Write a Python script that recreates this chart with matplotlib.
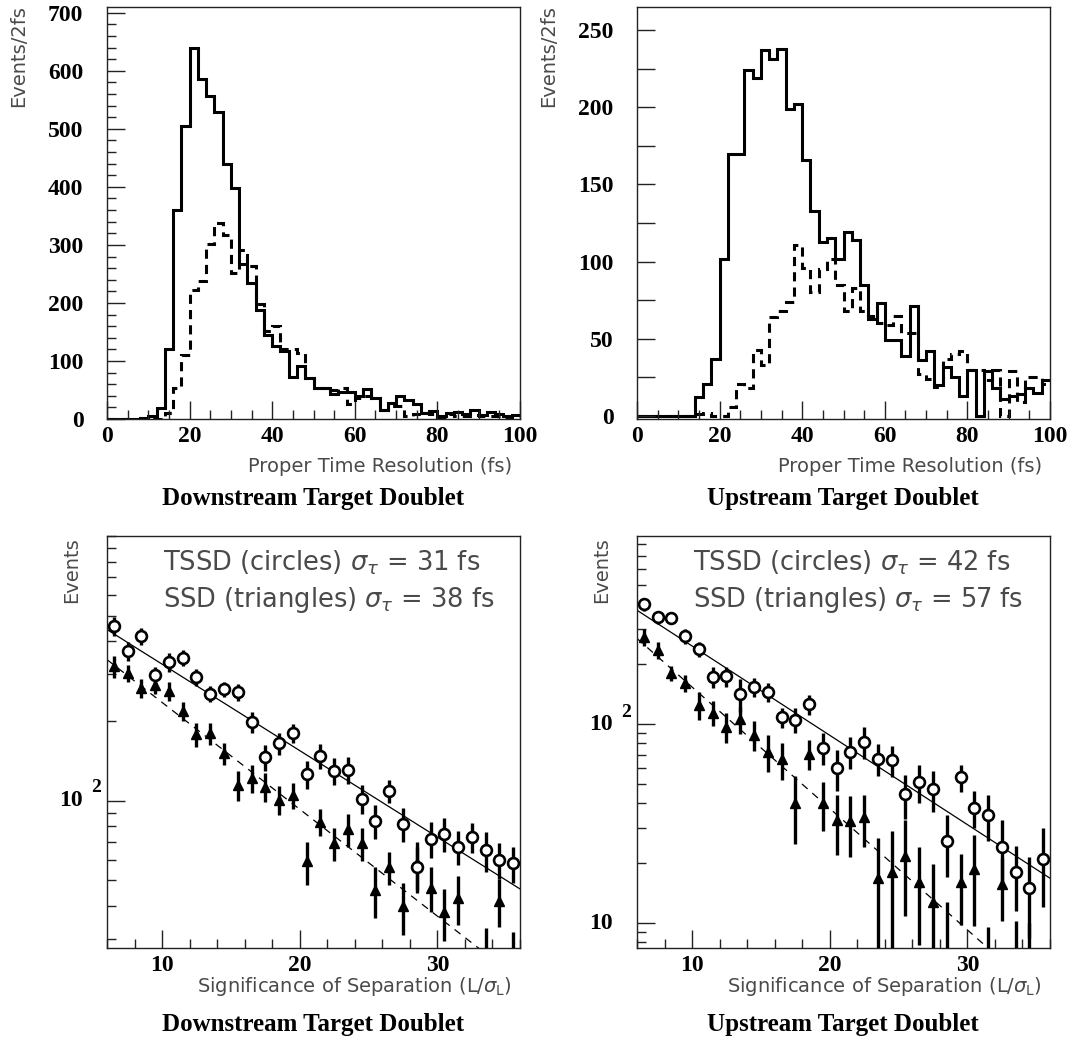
import numpy as np
import matplotlib.pyplot as plt
from matplotlib.ticker import MultipleLocator, FixedLocator, NullFormatter, FuncFormatter
from matplotlib.transforms import blended_transform_factory

plt.rcParams['font.family'] = ['Liberation Serif', 'DejaVu Serif']
plt.rcParams['font.weight'] = 'bold'
plt.rcParams['xtick.labelsize'] = 17
plt.rcParams['ytick.labelsize'] = 17
plt.rcParams['mathtext.fontset'] = 'custom'
plt.rcParams['mathtext.rm'] = 'DejaVu Sans:normal'
plt.rcParams['mathtext.it'] = 'DejaVu Sans:italic:normal'

W, H = 1070, 1044

# proper time resolution histograms, 2 fs bins from 0 to 100 fs
bin_edges = np.arange(0, 102, 2)
down_tssd = [0, 0, 0, 0, 2, 6, 19, 121, 360, 505,
             640, 586, 557, 529, 440, 398, 267, 234, 187, 145,
             125, 117, 72, 91, 71, 53, 53, 43, 47, 47,
             39, 52, 36, 16, 28, 39, 33, 26, 10, 14,
             5, 10, 12, 9, 16, 7, 12, 9, 6, 7]
down_ssd = [0, 0, 0, 0, 0, 0, 0, 10, 53, 111,
            223, 237, 302, 338, 317, 252, 292, 263, 199, 152,
            160, 120, 121, 114, 71, 53, 53, 50, 53, 25,
            36, 39, 36, 16, 22, 22, 5, 8, 10, 8,
            3, 8, 6, 5, 7, 5, 6, 5, 4, 5]
up_tssd = [0, 0, 0, 0, 0, 0, 0, 12, 21, 37,
           102, 170, 170, 224, 219, 237, 231, 238, 199, 202,
           166, 133, 113, 115, 102, 119, 114, 85, 63, 73,
           49, 49, 39, 71, 36, 42, 20, 32, 25, 13,
           30, 0, 29, 18, 11, 13, 14, 18, 15, 23]
up_ssd = [0, 0, 0, 0, 0, 0, 0, 1, 2, 0,
          0, 6, 21, 18, 43, 33, 64, 68, 74, 111,
          96, 80, 95, 102, 85, 68, 83, 68, 65, 60,
          59, 65, 54, 54, 27, 24, 19, 37, 40, 42,
          30, 30, 23, 30, 0, 29, 9, 25, 25, 21]

# significance of separation, unit bins from 6 to 36
sig_edges = np.arange(6, 37, 1)
sig_x = 0.5 * (sig_edges[:-1] + sig_edges[1:])
nan = np.nan
down_circ = [456, 367, 418, 299, 334, 346, 293, 254, 264, 257,
             198, 146, 165, 180, 126, 148, 130, 131, 102, 84,
             109, 82, 56, 72, 75, 67, 73, 65, 60, 58]
down_circ_err = [38, 31, 31, 22, 27, 24, 21, 18, 18, 19,
                 18, 16, 16, 15, 15, 16, 15, 15, 13, 12,
                 11, 12, 11, 11, 11, 10, 9.5, 11, 9.5, 9]
down_tri = [322, 304, 266, 274, 260, 218, 178, 180, 151, 115,
            122, 113, 101, 105, 59, 83.5, 69, 78, 69, 46,
            56, 40, 58, 47, 38, 43, nan, 22, 42, 20]
down_tri_err = [31, 23, 22, 20, 21, 18, 18, 17, 15, 15,
                15, 14, 13, 12, 11, 10, 10, 11, 10, 10,
                8, 9, 12, 9, 8.5, 9, nan, 11, 8.5, 12]
up_circ = [400, 343, 339, 276, 238, 173, 174, 141.5, 154, 145,
           108, 105, 125.5, 76, 60, 72.6, 81.5, 67, 66, 44.5,
           51, 47, 26, 54, 38, 35, 24, 18, 15, 21]
up_circ_err = [29, 24, 22, 24, 21, 21, 20, 27, 17, 16,
               13, 15, 15, 14, 14, 13, 15, 12, 12, 11,
               11, 11, 9, 8.5, 8, 9, 9, 6.5, 6.6, 9]
up_tri = [274, 235, 180, 161, 124.5, 114, 97, 105.5, 88, 72.6,
          66.5, 40, 71, 40, 33, 32.6, 34, 16.8, 18, 21.8,
          16, 12.8, 6, 16, 18.7, 4, 15.7, 4, 4, nan]
up_tri_err = [27, 22, 16, 16, 20, 16, 17, 16, 15, 15,
              14, 15, 12, 11, 11, 11, 10, 10, 11, 11,
              8.2, 7, 6.7, 6.2, 9, 5.6, 5.5, 6.2, 6, nan]

# exponential fits N0 * exp(-x / lam)
down_circ_fit = (696, 13.3)
down_tri_fit = (596, 10.76)
up_circ_fit = (693, 9.68)
up_tri_fit = (625, 7.12)

down_text = [r'TSSD (circles) $\sigma_\tau$ = 31 fs', r'SSD (triangles) $\sigma_\tau$ = 38 fs']
up_text = [r'TSSD (circles) $\sigma_\tau$ = 42 fs', r'SSD (triangles) $\sigma_\tau$ = 57 fs']

SANS = dict(family='DejaVu Sans', color='#4a4a4a', fontweight='normal')
TICKFONT = dict(family='Liberation Serif', fontweight='bold', size=17)


def rect(x0, y0, x1, y1):
    return [x0 / W, 1 - y1 / H, (x1 - x0) / W, (y1 - y0) / H]


def fig_text(x, y, s, **kw):
    fig.text(x / W, 1 - y / H, s, **kw)


def frame(ax):
    for sp in ax.spines.values():
        sp.set_linewidth(1.0)
        sp.set_color('#222222')
    ax.tick_params(which='both', direction='in', top=False, right=False,
                   width=1.0, color='#222222')
    ax.tick_params(which='major', length=13)
    ax.tick_params(which='minor', length=6.5)
    ax.tick_params(axis='x', pad=5)


def hist_panel(ax, solid, dashed, ymin, ymax, ymaj, ymin_step, label_every):
    ax.stairs(solid, bin_edges, color='black', lw=2.2, baseline=None)
    ax.stairs(dashed, bin_edges, color='black', lw=2.2, ls=(0, (3, 2)), baseline=None)
    ax.set_xlim(0, 100)
    ax.set_ylim(ymin, ymax)
    ax.xaxis.set_major_locator(MultipleLocator(20))
    ax.xaxis.set_minor_locator(MultipleLocator(5))
    ax.yaxis.set_major_locator(MultipleLocator(ymaj))
    if ymin_step:
        ax.yaxis.set_minor_locator(MultipleLocator(ymin_step))
    ax.yaxis.set_major_formatter(FuncFormatter(
        lambda v, p: '%d' % v if abs(v % label_every) < 1e-6 else ''))
    ax.tick_params(axis='y', pad=17)
    frame(ax)


def sig_panel(ax, circ, circ_err, tri, tri_err, circ_fit, tri_fit, ylim, labels, text):
    circ = np.array(circ, float)
    circ_err = np.array(circ_err, float)
    tri = np.array(tri, float)
    tri_err = np.array(tri_err, float)
    for vals, errs in ((tri, tri_err), (circ, circ_err)):
        lo = np.minimum(errs, 0.97 * vals)
        ax.errorbar(sig_x, vals, yerr=[lo, errs], fmt='none', ecolor='black',
                    elinewidth=2.4, capsize=0, zorder=3)
    xf = np.linspace(6, 36, 200)
    ax.plot(xf, circ_fit[0] * np.exp(-xf / circ_fit[1]), color='black', lw=0.9, zorder=2)
    ax.plot(xf, tri_fit[0] * np.exp(-xf / tri_fit[1]), color='black', lw=0.9,
            ls=(0, (6, 5)), zorder=2)
    ax.plot(sig_x, tri, ls='none', marker='^', ms=6.5, color='black', zorder=4)
    ax.plot(sig_x, circ, ls='none', marker='o', ms=7.8, mfc='white', mec='black',
            mew=1.9, zorder=4)
    ax.set_yscale('log')
    ax.set_xlim(6, 36)
    ax.set_ylim(*ylim)
    ax.xaxis.set_major_locator(FixedLocator([10, 20, 30]))
    ax.xaxis.set_minor_locator(MultipleLocator(2))
    ax.yaxis.set_major_locator(FixedLocator([v for v, e in labels]))
    ax.yaxis.set_minor_locator(FixedLocator(
        [m * 10 ** d for d in range(0, 4) for m in range(1, 10)]))
    ax.yaxis.set_major_formatter(NullFormatter())
    ax.yaxis.set_minor_formatter(NullFormatter())
    frame(ax)
    tr = blended_transform_factory(ax.transAxes, ax.transData)
    for v, e in labels:
        ax.text(-24 / 413, v, '10', transform=tr, ha='right', va='center', **TICKFONT)
        if e:
            ax.text(-16 / 413, v * 1.04, e, transform=tr, ha='left', va='bottom',
                    family='Liberation Serif', fontweight='bold', size=14)
    ax.text(0.136, 0.934, text[0], transform=ax.transAxes, ha='left', va='center',
            size=18.5, **SANS)
    ax.text(0.136, 0.845, text[1], transform=ax.transAxes, ha='left', va='center',
            size=18.5, **SANS)


fig = plt.figure(figsize=(W / 100, H / 100), dpi=100)

ax1 = fig.add_axes(rect(107, 7, 520, 419))
hist_panel(ax1, down_tssd, down_ssd, 0, 710, 100, 20, 100)
ax2 = fig.add_axes(rect(637, 7, 1050, 419))
hist_panel(ax2, up_tssd, up_ssd, -2, 265, 25, None, 50)

ax3 = fig.add_axes(rect(107, 536, 520, 948))
sig_panel(ax3, down_circ, down_circ_err, down_tri, down_tri_err,
          down_circ_fit, down_tri_fit, (27.8, 1000), [(100, '2')], down_text)
ax4 = fig.add_axes(rect(637, 536, 1050, 948))
sig_panel(ax4, up_circ, up_circ_err, up_tri, up_tri_err,
          up_circ_fit, up_tri_fit, (7.5, 880), [(10, ''), (100, '2')], up_text)

# axis titles and panel captions
for x0, x1 in ((107, 520), (637, 1050)):
    fig_text(x0 - 88, 5, 'Events/2fs', rotation=90, ha='center', va='top', size=14, **SANS)
    fig_text(x1 - 8, 466, 'Proper Time Resolution (fs)', ha='right', va='center', size=14, **SANS)
    fig_text(x0 - 35, 537, 'Events', rotation=90, ha='center', va='top', size=14, **SANS)
    fig_text(x1 - 8, 987, r'Significance of Separation (L/$\sigma_{\rm L}$)',
             ha='right', va='center', size=14, **SANS)

fig_text(313, 498, 'Downstream Target Doublet', ha='center', va='center',
         size=18, fontweight='bold', family='Liberation Serif')
fig_text(843, 498, 'Upstream Target Doublet', ha='center', va='center',
         size=18, fontweight='bold', family='Liberation Serif')
fig_text(313, 1025, 'Downstream Target Doublet', ha='center', va='center',
         size=18, fontweight='bold', family='Liberation Serif')
fig_text(843, 1025, 'Upstream Target Doublet', ha='center', va='center',
         size=18, fontweight='bold', family='Liberation Serif')

fig.savefig('out.png', dpi=100)
